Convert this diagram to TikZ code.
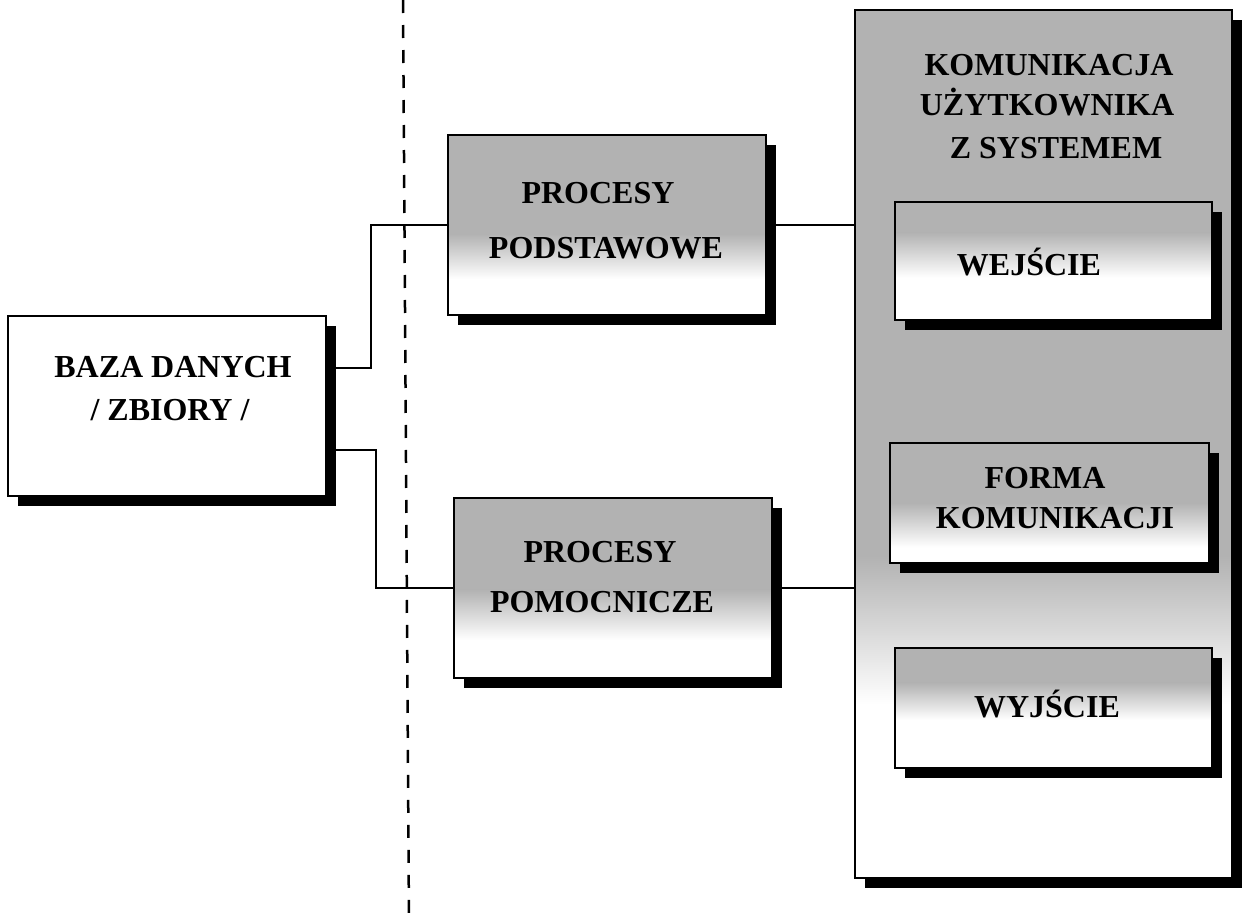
\documentclass[tikz,border=0pt]{standalone}
\usepackage{fontspec}
\setmainfont{Liberation Serif}
\usetikzlibrary{calc,shadows}
\definecolor{gr}{gray}{0.70}
\begin{document}
\begin{tikzpicture}[x=1pt,y=-1pt,
  box/.style={draw=black, line width=1.8pt, fill=white, inner sep=0pt, rectangle,
     drop shadow={shadow xshift=10pt, shadow yshift=-10pt, fill=black, opacity=1}},
  fade/.style 2 args={path picture={
     \fill[gr] (path picture bounding box.north west) rectangle ($(path picture bounding box.north east)!#1!(path picture bounding box.south east)$);
     \shade[top color=gr, bottom color=white] ($(path picture bounding box.north west)!#1!(path picture bounding box.south west)$) rectangle ($(path picture bounding box.north east)!#2!(path picture bounding box.south east)$);
  }},
  lbl/.style={anchor=base, inner sep=0pt, font=\fontsize{32}{38}\selectfont\bfseries},
  conn/.style={line width=1.8pt},
  sep/.style={line width=2.5pt, dash pattern=on 13pt off 12pt}
]
\fill[white] (0,0) rectangle (1254,924);
\useasboundingbox (0,0) rectangle (1254,924);

% separator
\coordinate (dtop) at (403,0);
\coordinate (dbot) at (409,924);

% big communication box
\node[box, fade={0.63}{0.80}, minimum width=377pt, minimum height=868pt] (big) at (1043.5,444) {};
\node[lbl] (tk1) at (1049,75) {KOMUNIKACJA};
\node[lbl] (tk2) at (1047,115) {UŻYTKOWNIKA};
\node[lbl] (tk3) at (1056,158) {Z SYSTEMEM};

\node[box, fade={0.26}{0.64}, minimum width=317pt, minimum height=118pt] (wej) at (1053.5,261) {};
\node[lbl] (twej) at (1029,275) {WEJŚCIE};

\node[box, fade={0.50}{0.87}, minimum width=319pt, minimum height=120pt] (forma) at (1049.5,503) {};
\node[lbl] (tf1) at (1045,488) {FORMA};
\node[lbl] (tf2) at (1055,528) {KOMUNIKACJI};

\node[box, fade={0.29}{0.60}, minimum width=317pt, minimum height=120pt] (wyj) at (1053.5,708) {};
\node[lbl] (twyj) at (1047,717) {WYJŚCIE};

% database
\node[box, minimum width=318pt, minimum height=180pt] (baza) at (167,406) {};
\node[lbl] (tb1) at (173,377) {BAZA DANYCH};
\node[lbl] (tb2) at (170,420) {/ ZBIORY /};

% processes
\node[box, fade={0.55}{0.80}, minimum width=318pt, minimum height=180pt] (pp) at (607,225) {};
\node[lbl] (tp1) at (598,203) {PROCESY};
\node[lbl] (tp2) at (606,258) {PODSTAWOWE};

\node[box, fade={0.51}{0.79}, minimum width=318pt, minimum height=180pt] (pm) at (613,588) {};
\node[lbl] (tm1) at (600,562) {PROCESY};
\node[lbl] (tm2) at (602,612) {POMOCNICZE};

% connectors
\draw[conn] ($(baza.east)+(0,-38)$) -| ($(pp.west)+(-76,0)$) -- (pp.west);
\draw[conn] ($(baza.east)+(0,44)$) -| ($(pm.west)+(-77,0)$) -- (pm.west);
\draw[conn] (pp.east) -- (pp.east -| big.west);
\draw[conn] (pm.east) -- (pm.east -| big.west);

\draw[sep] (dtop) -- (dbot);
\end{tikzpicture}
\end{document}
